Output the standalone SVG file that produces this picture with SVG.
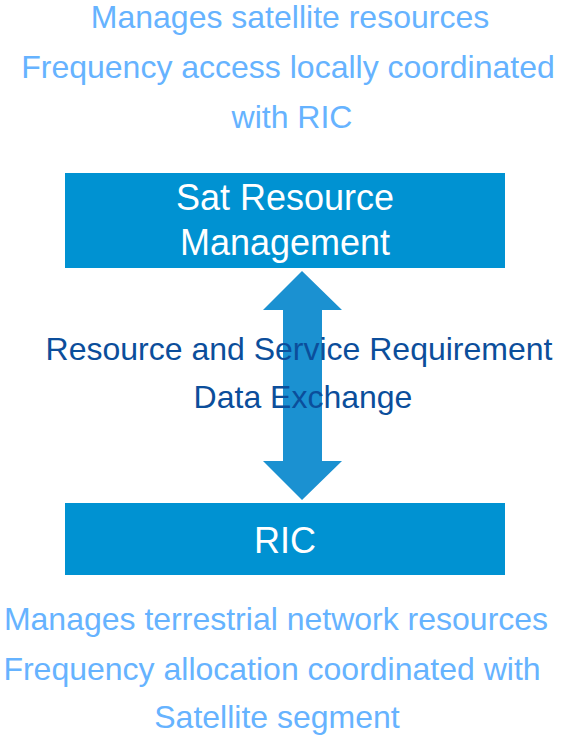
<svg xmlns="http://www.w3.org/2000/svg" width="573" height="736" viewBox="0 0 573 736">
<style>
.note{font-family:"Liberation Sans",Arial,sans-serif;font-size:32px;fill:#66b3ff;text-anchor:middle}
.lbl{font-family:"Liberation Sans",Arial,sans-serif;font-size:32px;fill:#0b4e9b;text-anchor:middle}
.box{fill:#0092d2}
.boxt{font-family:"Liberation Sans",Arial,sans-serif;font-size:36px;fill:#ffffff;text-anchor:middle}
</style>
<rect width="573" height="736" fill="#ffffff"/>
<g id="top-notes">
<text class="note" x="290" y="28">Manages satellite resources</text>
<text class="note" x="288" y="78">Frequency access locally coordinated</text>
<text class="note" x="292" y="128">with RIC</text>
</g>
<g id="sat-resource-management">
<rect class="box" x="65" y="173" width="440" height="95"/>
<text class="boxt" x="285" y="210">Sat Resource</text>
<text class="boxt" x="285" y="255">Management</text>
</g>
<g id="connectors">
<polygon fill="#1b91d1" points="302,271 342,310 322,310 322,461 342,461 302,500 263,461 283,461 283,310 263,310"/>
</g>
<g id="exchange-label">
<text class="lbl" x="299" y="360">Resource and Service Requirement</text>
<text class="lbl" x="303" y="408">Data Exchange</text>
</g>
<g id="ric">
<rect class="box" x="65" y="503" width="440" height="72"/>
<text class="boxt" x="285" y="553">RIC</text>
</g>
<g id="bottom-notes">
<text class="note" x="276" y="630">Manages terrestrial network resources</text>
<text class="note" x="272" y="680">Frequency allocation coordinated with</text>
<text class="note" x="277" y="728">Satellite segment</text>
</g>
</svg>
